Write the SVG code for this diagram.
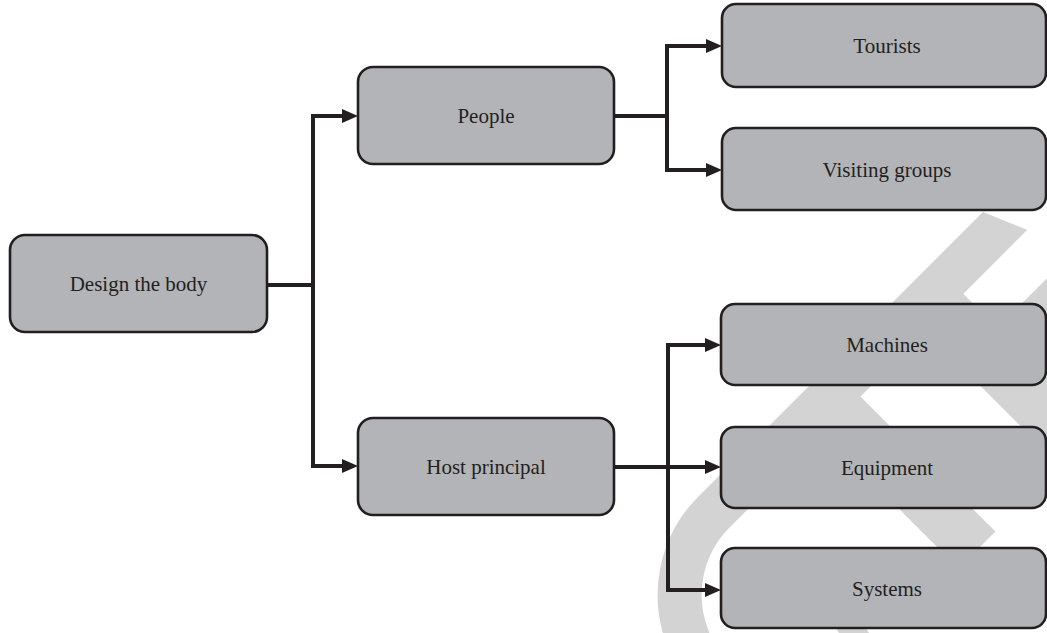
<svg xmlns="http://www.w3.org/2000/svg" width="1047" height="633" viewBox="0 0 1047 633">
  <defs>
    <style>
      .box { fill: #b3b4b7; stroke: #231f20; stroke-width: 2.6; }
      .lbl { font-family: "Liberation Serif", "DejaVu Serif", serif; font-size: 21px; fill: #231f20; text-anchor: middle; }
      .con { fill: none; stroke: #231f20; stroke-width: 4; stroke-linejoin: miter; stroke-linecap: butt; }
      .wm { fill: none; stroke: #d3d3d3; stroke-linecap: butt; }
    </style>
    <marker id="arr" viewBox="0 0 16 14" markerUnits="userSpaceOnUse" markerWidth="16" markerHeight="14" refX="8" refY="7" orient="auto">
      <path d="M0,0 L16,7 L0,14 Z" fill="#231f20"/>
    </marker>
    <clipPath id="wmclip">
      <polygon points="0,-190 1047,238 1047,633 0,633"/>
    </clipPath>
  </defs>
  <rect width="1047" height="633" fill="#ffffff"/>

  <g id="watermark" clip-path="url(#wmclip)">
    <path class="wm" stroke-width="44" d="M1060,166 L714,512 A117.4,117.4 0 0 0 797,712.4"/>
    <path class="wm" stroke-width="53" d="M929,297 L1230,598"/>
    <path class="wm" stroke-width="42" d="M994,361 L1200,155"/>
    <path class="wm" stroke-width="52" d="M826.5,399.5 L977,550"/>
    <polygon points="836,628 866,628 869,633 839,633" fill="#d3d3d3"/>
  </g>

  <g id="connectors">
    <path class="con" d="M267,285 H313"/>
    <path class="con" d="M313,285 V116 H350" marker-end="url(#arr)"/>
    <path class="con" d="M313,285 V466 H350" marker-end="url(#arr)"/>
    <path class="con" d="M614,116 H667"/>
    <path class="con" d="M667,116 V46 H714" marker-end="url(#arr)"/>
    <path class="con" d="M667,116 V170 H714" marker-end="url(#arr)"/>
    <path class="con" d="M614,467 H668"/>
    <path class="con" d="M668,467 V345 H713" marker-end="url(#arr)"/>
    <path class="con" d="M668,467 H713" marker-end="url(#arr)"/>
    <path class="con" d="M668,467 V590 H713" marker-end="url(#arr)"/>
  </g>

  <g id="node-design">
    <rect class="box" x="10" y="235" width="257" height="97" rx="15"/>
    <text class="lbl" x="138.5" y="291">Design the body</text>
  </g>
  <g id="node-people">
    <rect class="box" x="358" y="67" width="256" height="97" rx="15"/>
    <text class="lbl" x="486" y="123">People</text>
  </g>
  <g id="node-host">
    <rect class="box" x="358" y="418" width="256" height="97" rx="15"/>
    <text class="lbl" x="486" y="474">Host principal</text>
  </g>
  <g id="node-tourists">
    <rect class="box" x="722" y="4" width="324" height="83" rx="14"/>
    <text class="lbl" x="887" y="53">Tourists</text>
  </g>
  <g id="node-visiting">
    <rect class="box" x="722" y="128" width="324" height="82" rx="14"/>
    <text class="lbl" x="887" y="177">Visiting groups</text>
  </g>
  <g id="node-machines">
    <rect class="box" x="721" y="304" width="325" height="81" rx="14"/>
    <text class="lbl" x="887" y="352">Machines</text>
  </g>
  <g id="node-equipment">
    <rect class="box" x="721" y="427" width="325" height="81" rx="14"/>
    <text class="lbl" x="887" y="475">Equipment</text>
  </g>
  <g id="node-systems">
    <rect class="box" x="721" y="548" width="325" height="80" rx="14"/>
    <text class="lbl" x="887" y="596">Systems</text>
  </g>
</svg>
